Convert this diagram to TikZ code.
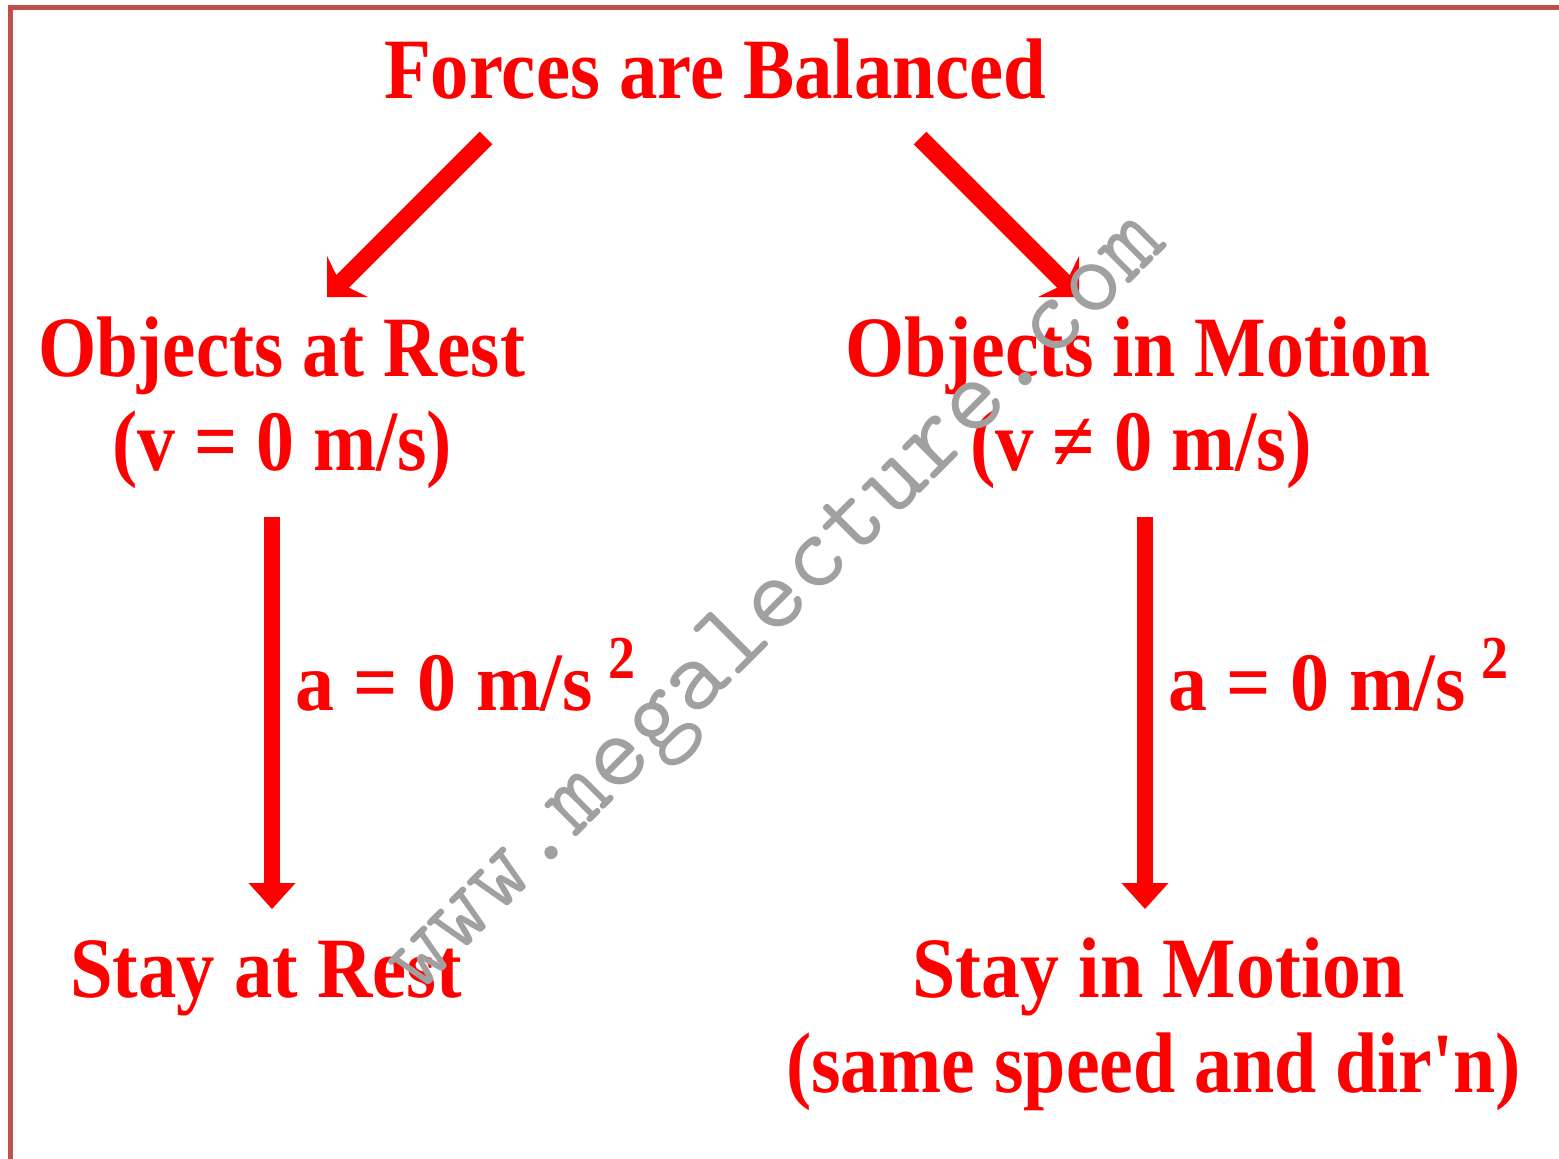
\documentclass[tikz,border=0pt]{standalone}
\usepackage{fontspec}
\usepackage{graphicx}
\usetikzlibrary{arrows.meta}
\newfontfamily\redfont{Liberation Serif}[BoldFont={Liberation Serif Bold}]
\definecolor{frame}{HTML}{C0504D}
\definecolor{txtred}{HTML}{FF0000}
\definecolor{wm}{HTML}{A0A0A0}
\newcommand{\fitw}[3]{\resizebox{#1}{\height}{\fontsize{#2}{#2}\selectfont #3}}
\begin{document}
\begin{tikzpicture}[x=1pt,y=-1pt,
  lbl/.style={anchor=base west, inner sep=0pt, outer sep=0pt, text=txtred, font=\redfont\bfseries},
  bigarrow/.style={draw=txtred, line width=18pt, -{Stealth[length=29pt,width=58pt,inset=10pt,line width=0pt]}},
  vertarrow/.style={draw=txtred, line width=16pt, -{Triangle[length=26pt,width=47pt,line width=0pt]}}
]
\useasboundingbox (0,0) rectangle (1559,1159);
\fill[white] (0,0) rectangle (1559,1159);
\draw[frame, line width=5pt] (10.5,1159) -- (10.5,7.5) -- (1559,7.5);

% texts
\node[lbl] (title) at (384,98) {\fitw{662pt}{86}{Forces are Balanced}};
\node[lbl] (restT) at (38,376) {\fitw{487pt}{86}{Objects at Rest}};
\node[lbl] (restV) at (112,470) {\fitw{340pt}{86}{(v = 0 m/s)}};
\node[lbl] (motT) at (845,376) {\fitw{586pt}{86}{Objects in Motion}};
\node[lbl] (motV) at (970,470) {\fitw{342pt}{86}{(v ≠ 0 m/s)}};
\node[lbl] (accL) at (295,710) {\fitw{298pt}{83}{a = 0 m/s}};
\node[lbl] (accLs) at (608,678) {\fitw{27pt}{61}{2}};
\node[lbl] (accR) at (1168,710) {\fitw{298pt}{83}{a = 0 m/s}};
\node[lbl] (accRs) at (1481,678) {\fitw{27pt}{61}{2}};
\node[lbl] (stayR) at (70,997) {\fitw{392pt}{86}{Stay at Rest}};
\node[lbl] (stayM) at (912,997) {\fitw{493pt}{86}{Stay in Motion}};
\node[lbl] (stayMd) at (786,1092) {\fitw{735pt}{86}{(same speed and dir\symbol{"0027}n)}};

% arrow end points
\coordinate (dLs) at (486,138);
\coordinate (dLe) at (327,297);
\coordinate (dRs) at (920,138);
\coordinate (dRe) at (1079,297);
\coordinate (vLs) at (272,517);
\coordinate (vLe) at (272,909);
\coordinate (vRs) at (1145,517);
\coordinate (vRe) at (1145,909);

\draw[bigarrow] (dLs) -- (dLe);
\draw[bigarrow] (dRs) -- (dRe);
\draw[vertarrow] (vLs) -- (vLe);
\draw[vertarrow] (vRs) -- (vRe);

% watermark
\node[anchor=base west, inner sep=0pt, rotate=45, text=wm, font=\ttfamily] (wmark) at (418,996) {\resizebox{1062pt}{!}{www.megalecture.com}};
\end{tikzpicture}
\end{document}
